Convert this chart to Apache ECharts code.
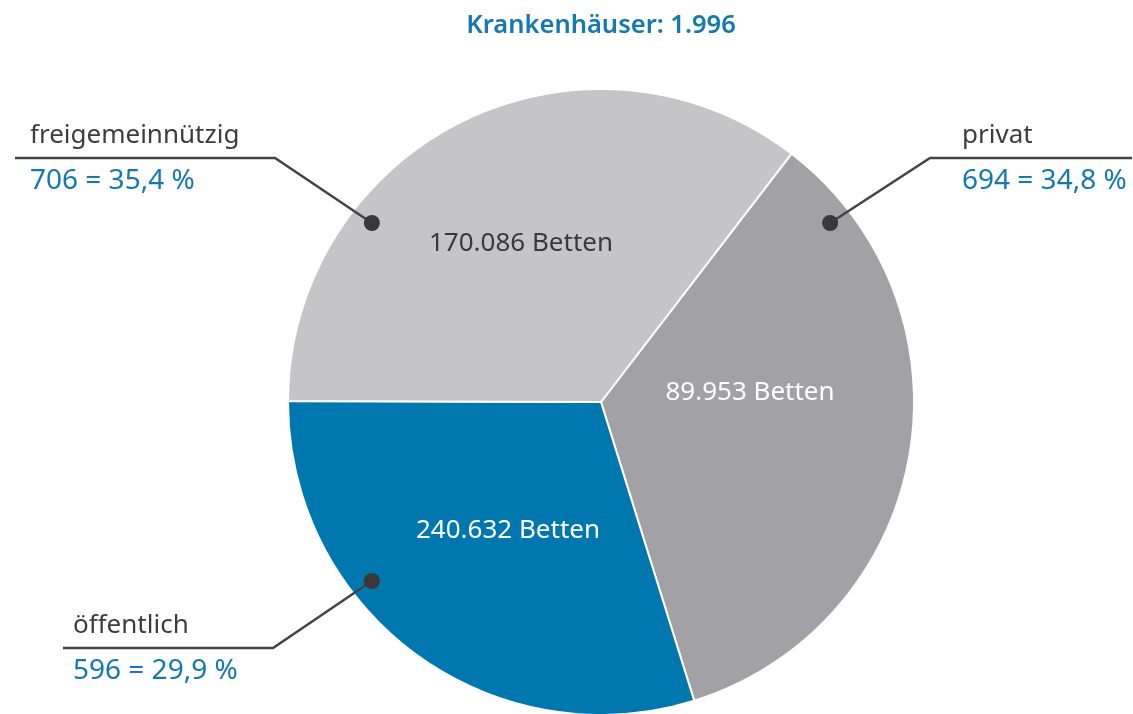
<!DOCTYPE html>
<html>
<head>
<meta charset="utf-8">
<script src="https://cdn.jsdelivr.net/npm/echarts@6/dist/echarts.min.js"></script>
<style>
html,body{margin:0;padding:0;background:#fff;}
#main{width:1133px;height:714px;}
</style>
</head>
<body>
<div id="main"></div>
<script>
// ---- data ----
const titleLabel = 'Krankenhäuser';
const categories = ['privat', 'öffentlich', 'freigemeinnützig'];
const hospitals = [694, 596, 706];
const beds = [89953, 240632, 170086];
const bedUnit = 'Betten';

// ---- helpers ----
function deNum(n) { return String(n).replace(/\B(?=(\d{3})+(?!\d))/g, '.'); }
const total = hospitals.reduce((a, b) => a + b, 0);
function pct(v) { return (v / total * 100).toFixed(1).replace('.', ','); }

// ---- layout / style ----
const FONT = '"Noto Sans", "Open Sans", sans-serif';
const CX = 601, CY = 402, R = 313;
const colors = ['#a2a1a6', '#0077ae', '#c5c5c7'];
const innerTextColors = ['#ffffff', '#ffffff', '#3a3a3a'];
const innerOffsets = [[149, -9], [-93, 129], [-80, -158]];
const dotAngles = [52, 232, 308];      // degrees clockwise from 12 o'clock
const dotRadiusFrac = 0.929;
const outer = [
  { elbow: [930, 158], end: [1132, 158], textX: 962 },
  { elbow: [273, 648], end: [63, 648], textX: 73 },
  { elbow: [275, 158], end: [15, 158], textX: 30 }
];
function dotPos(i) {
  const a = dotAngles[i] * Math.PI / 180;
  return [CX + dotRadiusFrac * R * Math.sin(a), CY - dotRadiusFrac * R * Math.cos(a)];
}

const chart = echarts.init(document.getElementById('main'), null, { renderer: 'canvas' });

const baseData = categories.map((c, i) => ({ name: c, value: hospitals[i] }));

const option = {
  animation: false,
  backgroundColor: '#ffffff',
  title: {
    text: titleLabel + ': ' + deNum(total),
    left: CX - 5, textAlign: 'center', top: 8,
    textStyle: { fontFamily: FONT, fontSize: 25.5, fontWeight: 600, color: '#1479b0' }
  },
  graphic: categories.map((c, i) => {
    const p = dotPos(i);
    return { type: 'circle', z: 100, shape: { cx: p[0], cy: p[1], r: 8 }, style: { fill: '#3b3738' }, silent: true };
  }),
  series: [
    {
      type: 'pie',
      z: 2,
      center: [CX, CY],
      radius: R,
      startAngle: 52.5,
      clockwise: true,
      avoidLabelOverlap: false,
      silent: true,
      emphasis: { disabled: true },
      data: baseData.map((d, i) => ({
        name: d.name, value: d.value,
        itemStyle: { color: colors[i] },
        label: { color: innerTextColors[i] }
      })),
      itemStyle: { borderColor: '#ffffff', borderWidth: 2 },
      label: {
        show: true, position: 'inside',
        formatter: p => deNum(beds[p.dataIndex]) + ' ' + bedUnit,
        fontFamily: FONT, fontSize: 26
      },
      labelLine: { show: false },
      labelLayout: p => {
        const o = innerOffsets[p.dataIndex];
        return { x: CX + o[0], y: CY + o[1], align: 'center', verticalAlign: 'middle' };
      }
    },
    {
      type: 'pie',
      z: 10,
      center: [CX, CY],
      radius: R,
      startAngle: 52.5,
      clockwise: true,
      avoidLabelOverlap: false,
      silent: true,
      emphasis: { disabled: true },
      data: baseData,
      itemStyle: { color: 'rgba(0,0,0,0)', borderWidth: 0 },
      label: {
        show: true, position: 'outside',
        formatter: p => '{n|' + p.name + '}\n{v|' + hospitals[p.dataIndex] + ' = ' + pct(hospitals[p.dataIndex]) + ' %}',
        rich: {
          n: { fontFamily: FONT, fontSize: 26, color: '#3d3d3d', lineHeight: 44 },
          v: { fontFamily: FONT, fontSize: 28, color: '#1479b0', lineHeight: 46 }
        }
      },
      labelLine: { show: true, lineStyle: { color: '#444444', width: 2.5 } },
      labelLayout: p => {
        const i = p.dataIndex;
        const o = outer[i];
        return {
          x: o.textX, y: o.elbow[1] + 1, align: 'left', verticalAlign: 'middle',
          labelLinePoints: [dotPos(i), o.elbow, o.end]
        };
      }
    }
  ]
};
chart.setOption(option);
</script>
</body>
</html>
